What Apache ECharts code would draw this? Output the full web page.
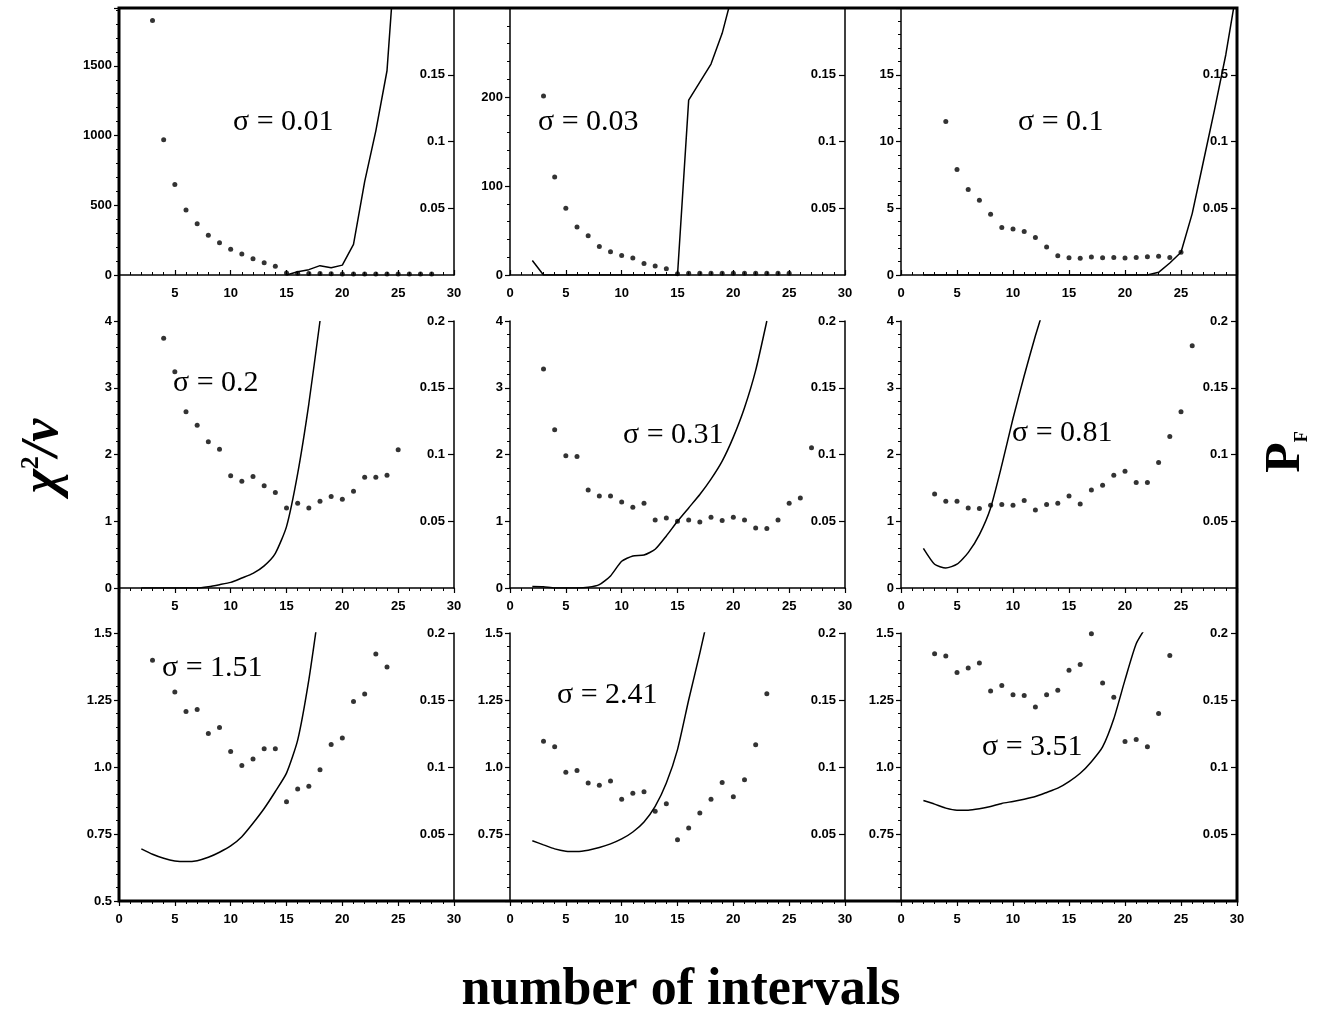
<!DOCTYPE html>
<html><head><meta charset="utf-8">
<script src="https://cdn.jsdelivr.net/npm/echarts@6/dist/echarts.min.js"></script>
<style>html,body{margin:0;padding:0;background:#fff}#c{width:1326px;height:1019px}</style>
</head><body><div id="c"></div>
<script>
// ---------------- data ----------------
const xTickLabels = [0, 5, 10, 15, 20, 25, 30];
const sigmaLabels = ['σ = 0.01', 'σ = 0.03', 'σ = 0.1', 'σ = 0.2', 'σ = 0.31', 'σ = 0.81', 'σ = 1.51', 'σ = 2.41', 'σ = 3.51'];

// left axis (chi^2/nu) ranges per panel
const leftMin = [0, 0, 0, 0, 0, 0, 0.5, 0.5, 0.5];
const leftMax = [1915, 300, 20, 4, 4, 4, 1.5, 1.5, 1.5];
const leftInterval = [500, 100, 5, 1, 1, 1, 0.25, 0.25, 0.25];
// right axis (P_F) range
const rightTicks = [0, 0.05, 0.1, 0.15, 0.2];

// sigma = 0.01
const chi001X = [3,4,5,6,7,8,9,10,11,12,13,14,15,16,17,18,19,20,21,22,23,24,25,26,27,28];
const chi001Y = [1826,970,649,466,368,285,231,185,150,116,88,62,15,12,10,10,9,8,8,8,8,8,8,8,8,8];
const pf001X = [15,16,17,18,19,20,21,22,23,24,25];
const pf001Y = [0,0.0025,0.004,0.007,0.0054,0.0074,0.023,0.070,0.108,0.153,0.27];
// sigma = 0.03
const chi003X = [3,4,5,6,7,8,9,10,11,12,13,14,15,16,17,18,19,20,21,22,23,24,25];
const chi003Y = [201,110,75,54,44,32,26,22,19,13,10,7,1.5,2,2,2,2,2,2,2,2,2,2];
const pf003X = [2,3,15,16,17,18,19,20];
const pf003Y = [0.0108,0,0,0.131,0.1445,0.158,0.181,0.213];
// sigma = 0.1
const chi01X = [4,5,6,7,8,9,10,11,12,13,14,15,16,17,18,19,20,21,22,23,24,25];
const chi01Y = [11.5,7.9,6.4,5.6,4.55,3.55,3.45,3.25,2.8,2.1,1.45,1.3,1.25,1.35,1.3,1.32,1.27,1.32,1.37,1.4,1.32,1.7];
const pf01X = [2,22,23,24,25,26,27,28,29,30];
const pf01Y = [0,0,0.002,0.009,0.017,0.046,0.085,0.124,0.165,0.215];
// sigma = 0.2
const chi02X = [4,5,6,7,8,9,10,11,12,13,14,15,16,17,18,19,20,21,22,23,24,25];
const chi02Y = [3.74,3.24,2.64,2.44,2.19,2.08,1.68,1.6,1.67,1.53,1.43,1.2,1.27,1.2,1.3,1.37,1.33,1.45,1.66,1.66,1.69,2.07];
const pf02X = [2,3,4,5,6,7,8,9,10,11,12,13,14,15,16,17,18];
const pf02Y = [0,0,0,0,0,0,0.001,0.0025,0.0042,0.0075,0.011,0.0166,0.026,0.046,0.0857,0.138,0.2];
// sigma = 0.31
const chi031X = [3,4,5,6,7,8,9,10,11,12,13,14,15,16,17,18,19,20,21,22,23,24,25,26,27];
const chi031Y = [3.28,2.37,1.98,1.97,1.47,1.38,1.38,1.29,1.21,1.27,1.02,1.05,1.0,1.02,0.99,1.06,1.01,1.06,1.02,0.9,0.89,1.02,1.27,1.35,2.1];
const pf031X = [2,3,4,5,6,7,8,9,10,11,12,13,14,15,16,17,18,19,20,21,22,23];
const pf031Y = [0.0012,0.001,0,0,0,0.0005,0.0025,0.009,0.02,0.024,0.0247,0.029,0.039,0.05,0.06,0.07,0.0815,0.095,0.113,0.135,0.163,0.2];
// sigma = 0.81
const chi081X = [3,4,5,6,7,8,9,10,11,12,13,14,15,16,17,18,19,20,21,22,23,24,25,26];
const chi081Y = [1.41,1.3,1.3,1.2,1.19,1.24,1.25,1.24,1.31,1.17,1.25,1.27,1.38,1.26,1.47,1.54,1.69,1.75,1.58,1.58,1.88,2.27,2.64,3.63];
const pf081X = [2,3,4,5,6,7,8,9,10,11,12,13];
const pf081Y = [0.0297,0.0178,0.0149,0.0178,0.0265,0.04,0.06,0.092,0.127,0.159,0.189,0.216];
// sigma = 1.51
const chi151X = [3,5,6,7,8,9,10,11,12,13,14,15,16,17,18,19,20,21,22,23,24];
const chi151Y = [1.398,1.28,1.207,1.215,1.125,1.147,1.058,1.006,1.03,1.068,1.068,0.87,0.918,0.928,0.99,1.084,1.108,1.244,1.272,1.422,1.373];
const pf151X = [2,3,4,5,6,7,8,9,10,11,12,13,14,15,16,17,18];
const pf151Y = [0.0389,0.0349,0.0319,0.0299,0.0294,0.0301,0.0326,0.0364,0.0411,0.048,0.058,0.069,0.0817,0.0954,0.12,0.165,0.223];
// sigma = 2.41
const chi241X = [3,4,5,6,7,8,9,10,11,12,13,14,15,16,17,18,19,20,21,22,23];
const chi241Y = [1.096,1.076,0.98,0.987,0.94,0.932,0.948,0.88,0.902,0.908,0.835,0.863,0.729,0.772,0.828,0.88,0.942,0.889,0.952,1.083,1.273];
const pf241X = [2,3,4,5,6,7,8,9,10,11,12,13,14,15,16,17,18];
const pf241Y = [0.045,0.0419,0.0389,0.0372,0.0369,0.0379,0.0399,0.0426,0.0463,0.0515,0.059,0.0706,0.088,0.113,0.15,0.185,0.222];
// sigma = 3.51
const chi351X = [3,4,5,6,7,8,9,10,11,12,13,14,15,16,17,18,19,20,21,22,23,24];
const chi351Y = [1.423,1.414,1.353,1.369,1.388,1.284,1.304,1.27,1.267,1.224,1.27,1.286,1.361,1.382,1.497,1.313,1.26,1.095,1.103,1.076,1.2,1.416];
const pf351X = [2,3,4,5,6,7,8,9,10,11,12,13,14,15,16,17,18,19,20,21,22];
const pf351Y = [0.075,0.0723,0.0693,0.0678,0.0678,0.0688,0.0705,0.0728,0.0743,0.076,0.078,0.081,0.0842,0.0891,0.0953,0.104,0.115,0.136,0.165,0.192,0.206];

const dotsX = [chi001X, chi003X, chi01X, chi02X, chi031X, chi081X, chi151X, chi241X, chi351X];
const dotsY = [chi001Y, chi003Y, chi01Y, chi02Y, chi031Y, chi081Y, chi151Y, chi241Y, chi351Y];
const lineX = [pf001X, pf003X, pf01X, pf02X, pf031X, pf081X, pf151X, pf241X, pf351X];
const lineY = [pf001Y, pf003Y, pf01Y, pf02Y, pf031Y, pf081Y, pf151Y, pf241Y, pf351Y];

// ---------------- layout ----------------
const colLeft = [119, 510, 901], colWidth = [335, 335, 336];
const rowTop = [8, 321, 633], rowHeight = [267, 267, 268];
const labelPos = [[233,122],[538,122],[1018,122],[173,383],[623,435],[1012,433],[162,668],[557,695],[982,747]];

const SANS = '"Liberation Sans", Arial, sans-serif';
const SERIF = '"Liberation Serif", "Times New Roman", serif';
const zip = (a, b) => a.map((v, k) => [v, b[k]]);

const grids = [], xAxes = [], yAxes = [], series = [], graphics = [];
for (let i = 0; i < 9; i++) {
  const r = Math.floor(i / 3), c = i % 3;
  grids.push({ left: colLeft[c], top: rowTop[r], width: colWidth[c], height: rowHeight[r], containLabel: false });
  xAxes.push({
    gridIndex: i, type: 'value', min: xTickLabels[0], max: xTickLabels[xTickLabels.length - 1], interval: 5,
    axisLine: { show: true, onZero: false, lineStyle: { color: '#000', width: 1.5 } },
    axisTick: { show: true, inside: r === 0, length: 5, lineStyle: { color: '#000', width: 1.2 } },
    minorTick: { show: true, splitNumber: 5, length: 3, lineStyle: { color: '#000', width: 1 } },
    splitLine: { show: false },
    axisLabel: {
      showMinLabel: !(c === 0 && r < 2), showMaxLabel: !(c === 2 && r < 2),
      color: '#000', fontFamily: SANS, fontWeight: 'bold', fontSize: 13, margin: 12
    }
  });
  yAxes.push({
    gridIndex: i, type: 'value', position: 'left',
    min: leftMin[i], max: leftMax[i], interval: leftInterval[i],
    axisLine: { show: true, onZero: false, lineStyle: { color: '#000', width: 1.5 } },
    axisTick: { show: true, length: 5, lineStyle: { color: '#000', width: 1.2 } },
    minorTick: { show: true, splitNumber: 5, length: 3, lineStyle: { color: '#000', width: 1 } },
    splitLine: { show: false },
    axisLabel: {
      showMaxLabel: r !== 0, showMinLabel: !(r === 2 && c > 0),
      color: '#000', fontFamily: SANS, fontWeight: 'bold', fontSize: 13, margin: 7,
      formatter: v => (r === 2 && v === 1) ? '1.0' : String(v)
    }
  });
  yAxes.push({
    gridIndex: i, type: 'value', position: 'right',
    min: rightTicks[0], max: rightTicks[rightTicks.length - 1], interval: 0.05,
    axisLine: { show: true, onZero: false, lineStyle: { color: '#000', width: 1.5 } },
    axisTick: { show: true, inside: true, length: 6, lineStyle: { color: '#000', width: 1.2 } },
    splitLine: { show: false },
    axisLabel: {
      inside: true, showMinLabel: false, showMaxLabel: r !== 0,
      color: '#000', fontFamily: SANS, fontWeight: 'bold', fontSize: 13, margin: 9
    }
  });
  series.push({
    type: 'scatter', xAxisIndex: i, yAxisIndex: 2 * i, data: zip(dotsX[i], dotsY[i]),
    symbol: 'circle', symbolSize: 5, itemStyle: { color: '#000' }, silent: true, clip: true
  });
  series.push({
    type: 'line', xAxisIndex: i, yAxisIndex: 2 * i + 1, data: zip(lineX[i], lineY[i]),
    showSymbol: false, symbol: 'none', smooth: r === 0 ? false : 0.2,
    lineStyle: { color: '#000', width: 1.5 }, clip: true, silent: true
  });
  graphics.push({
    type: 'text', x: labelPos[i][0], y: labelPos[i][1], z: 50,
    style: { text: sigmaLabels[i], font: '30px ' + SERIF, fill: '#000',
             textAlign: 'left', textVerticalAlign: 'middle', align: 'left', verticalAlign: 'middle' }
  });
}

const fx0 = colLeft[0], fy0 = rowTop[0];
const fx1 = colLeft[2] + colWidth[2], fy1 = rowTop[2] + rowHeight[2];
graphics.push({
  type: 'rect', z: 100, shape: { x: fx0, y: fy0, width: fx1 - fx0, height: fy1 - fy0 },
  style: { fill: 'none', stroke: '#000', lineWidth: 3 }
});
graphics.push({
  type: 'text', x: 44, y: 456, rotation: Math.PI / 2, z: 50,
  style: {
    text: '{c|χ}{s|2}{c|/ν}', fill: '#000',
    textAlign: 'center', textVerticalAlign: 'middle', align: 'center', verticalAlign: 'middle',
    rich: {
      c: { fontFamily: SERIF, fontSize: 52, fontStyle: 'italic', fontWeight: 'bold', fill: '#000', verticalAlign: 'bottom' },
      s: { fontFamily: SERIF, fontSize: 26, fontWeight: 'bold', fill: '#000', verticalAlign: 'top' }
    }
  }
});
graphics.push({
  type: 'text', x: 1286, y: 452, rotation: Math.PI / 2, z: 50,
  style: {
    text: '{p|P}{f|F}', fill: '#000',
    textAlign: 'center', textVerticalAlign: 'middle', align: 'center', verticalAlign: 'middle',
    rich: {
      p: { fontFamily: SERIF, fontSize: 50, fontWeight: 'bold', fill: '#000', verticalAlign: 'bottom' },
      f: { fontFamily: SERIF, fontSize: 18, fontWeight: 'bold', fill: '#000', verticalAlign: 'bottom' }
    }
  }
});
graphics.push({
  type: 'text', x: 681, y: 991, z: 50,
  style: { text: 'number of intervals', font: 'bold 52px ' + SERIF, fill: '#000',
           textAlign: 'center', textVerticalAlign: 'middle', align: 'center', verticalAlign: 'middle' }
});

const chart = echarts.init(document.getElementById('c'), null, { renderer: 'canvas' });
chart.setOption({
  animation: false,
  backgroundColor: '#fff',
  grid: grids, xAxis: xAxes, yAxis: yAxes, series: series, graphic: graphics
});
</script>
</body></html>
